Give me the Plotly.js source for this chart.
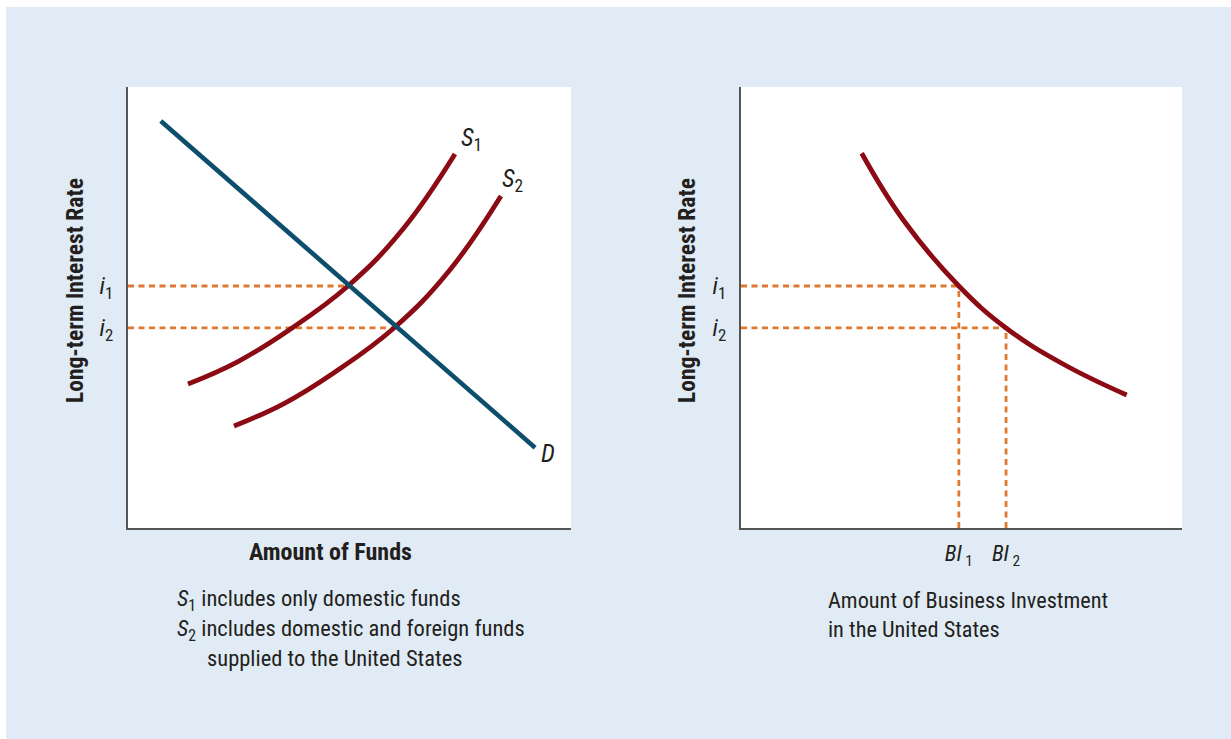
<!DOCTYPE html>
<html>
<head>
<meta charset="utf-8">
<script src="https://cdn.plot.ly/plotly-3.0.1.min.js"></script>
<style>
html,body{margin:0;padding:0;background:#ffffff;}
#chart{width:1231px;height:739px;}
</style>
</head>
<body>
<div id="chart"></div>
<script>
// ---- data (axes 0..10) ----
const dX  = [0.74, 9.19];
const dY  = [9.23, 1.82];
const s1X = [1.354, 2.483, 3.612, 4.966, 6.208, 7.381];
const s1Y = [3.265, 3.775, 4.475, 5.488, 6.780, 8.481];
const s2X = [2.392, 3.521, 4.650, 6.004, 7.246, 8.419];
const s2Y = [2.313, 2.823, 3.523, 4.536, 5.828, 7.529];
const invX = [2.737, 3.680, 4.940, 6.009, 7.302, 8.746];
const invY = [8.497, 6.984, 5.488, 4.536, 3.719, 3.016];
const rateVals = [5.488, 4.536];         // i1, i2
const rateLabels = ["<i>i</i><sub>1</sub>", "<i>i</i><sub>2</sub>"];
const eqQ = [4.96, 6.00];                // quantities of funds at i1, i2
const biVals = [4.94, 6.01];             // BI1, BI2
const biLabels = ["<i>BI</i><sub> 1</sub>", "<i>BI</i><sub> 2</sub>"];

const FONT = "'Liberation Sans Narrow', 'Roboto Condensed', 'DejaVu Sans Condensed', 'Arial Narrow', sans-serif";
const TXT = "#231f20";
const RED = "#8b0a14";
const BLUE = "#0d4e6d";
const ORANGE = "#e0782f";
const W = 1231, H = 739;
const px = v => v / W;
const py = v => 1 - v / H;

const dash = {color: ORANGE, width: 2.8, dash: "6px,4.5px"};
const traces = [];
// left panel dashed guides
for (let k = 0; k < 2; k++) {
  traces.push({x: [0, eqQ[k]], y: [rateVals[k], rateVals[k]], xaxis: "x", yaxis: "y",
    mode: "lines", line: dash, hoverinfo: "skip"});
}
// right panel dashed guides
for (let k = 0; k < 2; k++) {
  traces.push({x: [0, biVals[k]], y: [rateVals[k], rateVals[k]], xaxis: "x2", yaxis: "y2",
    mode: "lines", line: dash, hoverinfo: "skip"});
  traces.push({x: [biVals[k], biVals[k]], y: [0, rateVals[k]], xaxis: "x2", yaxis: "y2",
    mode: "lines", line: dash, hoverinfo: "skip"});
}
const curve = {color: RED, width: 4.8, shape: "spline", smoothing: 1.2};
traces.push({x: s1X, y: s1Y, xaxis: "x", yaxis: "y", mode: "lines", line: curve});
traces.push({x: s2X, y: s2Y, xaxis: "x", yaxis: "y", mode: "lines", line: curve});
traces.push({x: dX, y: dY, xaxis: "x", yaxis: "y", mode: "lines",
  line: {color: BLUE, width: 4.6}});
traces.push({x: invX, y: invY, xaxis: "x2", yaxis: "y2", mode: "lines", line: curve});

const axLine = {showline: true, linecolor: "#555555", linewidth: 2, showgrid: false,
  zeroline: false, range: [0, 10], fixedrange: true};

const yax = (dom, anchor) => Object.assign({}, axLine, {
  domain: dom, anchor: anchor, tickmode: "array", tickvals: rateVals, ticktext: rateLabels,
  ticks: "", ticklabelstandoff: 8, tickfont: {family: FONT, size: 24, color: TXT}});

const ann = (x, y, text, size, extra) => Object.assign({
  xref: "paper", yref: "paper", x: px(x), y: py(y), text: text, showarrow: false,
  xanchor: "center", yanchor: "middle", font: {family: FONT, size: size, color: TXT}}, extra || {});

const layout = {
  width: W, height: H,
  margin: {l: 0, r: 0, t: 0, b: 0},
  paper_bgcolor: "#e0ebf5",
  plot_bgcolor: "#ffffff",
  showlegend: false,
  xaxis: Object.assign({}, axLine, {domain: [px(128), px(571)], anchor: "y", showticklabels: false, ticks: ""}),
  yaxis: yax([py(528), py(87)], "x"),
  xaxis2: Object.assign({}, axLine, {domain: [px(741), px(1182)], anchor: "y2",
    tickmode: "array", tickvals: biVals, ticktext: biLabels, ticks: "", ticklabelstandoff: 5,
    tickfont: {family: FONT, size: 22, color: TXT}}),
  yaxis2: yax([py(528), py(87)], "x2"),
  shapes: [
    {type: "rect", xref: "paper", yref: "paper", x0: 0, x1: 1, y0: py(7), y1: 1,
      fillcolor: "#ffffff", line: {width: 0}, layer: "below"},
    {type: "rect", xref: "paper", yref: "paper", x0: 0, x1: px(6), y0: 0, y1: 1,
      fillcolor: "#ffffff", line: {width: 0}, layer: "below"}
  ],
  annotations: [
    ann(75, 291, "<b>Long-term Interest Rate</b>", 23.5, {textangle: -90}),
    ann(687, 291, "<b>Long-term Interest Rate</b>", 23.5, {textangle: -90}),
    ann(330, 552, "<b>Amount of Funds</b>", 24),
    {xref: "x", yref: "y", x: s1X[s1X.length - 1], y: s1Y[s1Y.length - 1], xshift: 17, yshift: 15,
      text: "<i>S</i><sub>1</sub>", showarrow: false, xanchor: "center", yanchor: "middle",
      font: {family: FONT, size: 25, color: TXT}},
    {xref: "x", yref: "y", x: s2X[s2X.length - 1], y: s2Y[s2Y.length - 1], xshift: 12, yshift: 16,
      text: "<i>S</i><sub>2</sub>", showarrow: false, xanchor: "center", yanchor: "middle",
      font: {family: FONT, size: 25, color: TXT}},
    {xref: "x", yref: "y", x: dX[1], y: dY[1], xshift: 13, yshift: -6,
      text: "<i>D</i>", showarrow: false, xanchor: "center", yanchor: "middle",
      font: {family: FONT, size: 25, color: TXT}},
    ann(175, 600, "<i>S</i><sub>1</sub> includes only domestic funds", 22.5, {xanchor: "left"}),
    ann(175, 630, "<i>S</i><sub>2</sub> includes domestic and foreign funds", 22.5, {xanchor: "left"}),
    ann(205, 658, "supplied to the United States", 22.5, {xanchor: "left"}),
    ann(826, 600, "Amount of Business Investment", 22.3, {xanchor: "left"}),
    ann(826, 629, "in the United States", 22.3, {xanchor: "left"})
  ]
};

Plotly.newPlot("chart", traces, layout, {displayModeBar: false, staticPlot: true});
</script>
</body>
</html>
